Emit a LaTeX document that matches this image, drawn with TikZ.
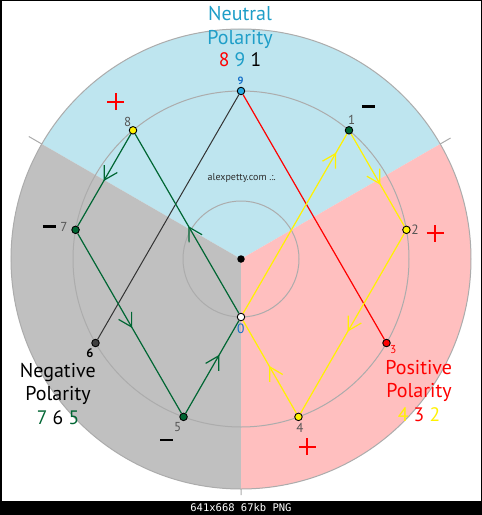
\documentclass[tikz,border=0pt]{standalone}
\usepackage{fontspec}
\setmainfont{PT Sans}
\newfontfamily\footmono{DejaVu Sans Mono}
\usetikzlibrary{decorations.markings}
\pgfdeclarelayer{bg}
\pgfdeclarelayer{lines}
\pgfsetlayers{bg,lines,main}
\definecolor{secblue}{RGB}{190,229,239}
\definecolor{secgray}{RGB}{192,192,192}
\definecolor{secpink}{RGB}{255,191,191}
\definecolor{ringgray}{RGB}{172,172,172}
\definecolor{ngreen}{RGB}{0,102,51}
\definecolor{nblue}{RGB}{30,158,200}
\definecolor{dotblue}{RGB}{41,171,226}
\definecolor{labblue}{RGB}{20,110,200}
\definecolor{labgray}{RGB}{85,85,85}
\definecolor{webtext}{RGB}{45,45,45}
\begin{document}
\begin{tikzpicture}[x=1pt,y=1pt,
  ndot/.style={circle,draw=black,line width=0.9pt,inner sep=0pt,minimum size=7.5pt},
  lab/.style={font=\fontsize{13}{13}\selectfont,text=labgray,inner sep=0pt},
  ttl/.style={font=\fontsize{20}{20}\selectfont,inner sep=0pt,anchor=base},
  nums/.style={font=\fontsize{19.5}{19.5}\selectfont,inner sep=0pt,anchor=base},
  link/.style={line width=1.2pt},
  chev/.style={postaction={decorate},decoration={markings,mark=at position #1 with {\draw[line width=1.2pt,line join=miter] (-13pt,7.5pt) -- (0,0) -- (-13pt,-7.5pt);}}},
  plusmark/.pic={\draw[red,line width=2.2pt] (-8.5,0)--(8.5,0) (0,-8.5)--(0,8.5);},
  minusmark/.pic={\draw[black,line width=2.8pt] (-6.5,0)--(6.5,0);}
]
\useasboundingbox (0,0) rectangle (482,-515);
\begin{pgfonlayer}{bg}
  \fill[black] (0,0) rectangle (482,-515);
  \fill[white] (2,-1) rectangle (480.5,-500.5);
  \begin{scope}[shift={(241,-259)}]
    \fill[secblue] (0,0) -- (30:230) arc[start angle=30,end angle=150,radius=230] -- cycle;
    \fill[secgray] (0,0) -- (150:230) arc[start angle=150,end angle=270,radius=230] -- cycle;
    \fill[secpink] (0,0) -- (270:230) arc[start angle=270,end angle=390,radius=230] -- cycle;
    \draw[ringgray,line width=1pt] (0,0) circle[radius=230];
    \draw[ringgray,line width=1pt] (0,0) circle[radius=168];
    \draw[ringgray,line width=1pt] (0,0) circle[radius=58];
    \draw[ringgray,line width=1pt] (30:230) -- (30:242) (150:230) -- (150:245) (270:230) -- (270:236);
  \end{scope}
\end{pgfonlayer}

\begin{scope}[shift={(241,-259)}]
  \node[ndot,fill=dotblue] (n9) at (90:168) {};
  \node[ndot,fill=ngreen] (n1) at (50:168) {};
  \node[ndot,fill=yellow] (n2) at (10:168) {};
  \node[ndot,fill=red] (n3) at (-30:168) {};
  \node[ndot,fill=yellow] (n4) at (-70:168) {};
  \node[ndot,fill=ngreen] (n5) at (-110:168) {};
  \node[ndot,fill=black!75] (n6) at (-150:168) {};
  \node[ndot,fill=ngreen] (n7) at (170:168) {};
  \node[ndot,fill=yellow] (n8) at (130:168) {};
  \node[ndot,fill=white] (n0) at (-90:58) {};
  \node[circle,fill=black,inner sep=0pt,minimum size=7.5pt] (ctr) at (0,0) {};
\end{scope}

\begin{pgfonlayer}{lines}
  \draw[black!80,line width=1pt] (n9) -- (n6);
  \draw[red,link] (n9) -- (n3);
  \draw[ngreen,link,chev=0.5] (n8) -- (n7);
  \draw[ngreen,link,chev=0.52] (n7) -- (n5);
  \draw[ngreen,link,chev=0.62] (n5) -- (n0);
  \draw[ngreen,link,chev=0.48] (n0) -- (n8);
  \draw[yellow,link,chev=0.54] (n1) -- (n2);
  \draw[yellow,link,chev=0.54] (n2) -- (n4);
  \draw[yellow,link,chev=0.5] (n4) -- (n0);
  \draw[yellow,link,chev=0.89] (n0) -- (n1);
\end{pgfonlayer}

% point labels
\node[lab,text=labblue,font=\fontsize{10.5}{10.5}\selectfont\bfseries] (l9) at (240.7,-80.7) {9};
\node[lab] (l1) at (351.7,-120) {1};
\node[lab,font=\fontsize{13.5}{13.5}\selectfont] (l2) at (415,-229.3) {2};
\node[lab,text=red,font=\fontsize{11.5}{11.5}\selectfont] (l3) at (393.3,-349.3) {3};
\node[lab] (l4) at (300,-428.3) {4};
\node[lab] (l5) at (177.7,-426.7) {5};
\node[lab,text=black,font=\fontsize{12.5}{12.5}\selectfont\bfseries] (l6) at (90,-352.7) {6};
\node[lab] (l7) at (64,-227) {7};
\node[lab] (l8) at (127.7,-121.7) {8};
\node[lab,text=labblue,font=\fontsize{13.5}{13.5}\selectfont] (l0) at (240.7,-328.3) {0};

% signs
\pic at (115.7,-101.7) {plusmark};
\pic at (435,-233.3) {plusmark};
\pic at (307.3,-446.7) {plusmark};
\pic at (368.3,-106.7) {minusmark};
\pic at (49.3,-226.7) {minusmark};
\pic at (166.7,-440) {minusmark};

% titles
\node[ttl,text=nblue] (neu1) at (240,-20.7) {Neutral};
\node[ttl,text=nblue] (neu2) at (240,-44) {Polarity};
\node[nums] (neu3) at (240,-66.7) {\textcolor{red}{8} \textcolor{nblue}{9} \textcolor{black}{1}};
\node[ttl,text=black] (neg1) at (57.8,-377) {Negative};
\node[ttl,text=black] (neg2) at (58,-400) {Polarity};
\node[nums] (neg3) at (58,-424) {\textcolor{ngreen}{7} \textcolor{black}{6} \textcolor{ngreen}{5}};
\node[ttl,text=red] (pos1) at (418.7,-374) {Positive};
\node[ttl,text=red] (pos2) at (419,-397.3) {Polarity};
\node[nums] (pos3) at (419,-421.7) {\textcolor{yellow}{4} \textcolor{red}{3} \textcolor{yellow}{2}};

\node[font=\fontsize{10}{10}\selectfont,text=webtext,anchor=base,inner sep=0pt] (web) at (241.7,-180) {alexpetty.com .:.};

\node[font=\footmono\fontsize{10.5}{10.5}\selectfont,text=white,anchor=base,inner sep=0pt] (foot) at (241,-511.5) {641x668 67kb PNG};
\end{tikzpicture}
\end{document}
